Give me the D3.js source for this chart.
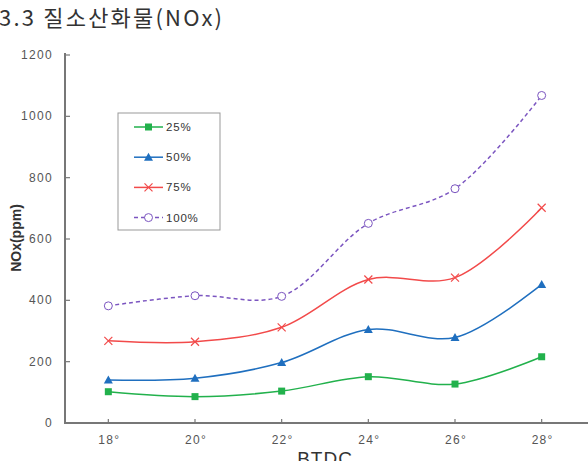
<!DOCTYPE html>
<html><head><meta charset="utf-8">
<script src="https://cdn.jsdelivr.net/npm/d3@7/dist/d3.min.js"></script>
<style>body{margin:0;background:#fff}</style>
</head><body>
<svg id="c" width="588" height="461"></svg>
<script>
const categories = ["18°","20°","22°","24°","26°","28°"];
const s25  = [102, 86, 104, 151, 127, 216];
const s50  = [140, 146, 197, 305, 279, 452];
const s75  = [268, 265, 312, 468, 474, 702];
const s100 = [382, 415, 413, 651, 764, 1068];
const seriesNames = ["25%","50%","75%","100%"];
const yTicks = [0,200,400,600,800,1000,1200];

(function(){
const series = [
  {name: seriesNames[0], values: s25,  color:"#22b14c", marker:"square", dash:null},
  {name: seriesNames[1], values: s50,  color:"#1f6fbf", marker:"triangle", dash:null},
  {name: seriesNames[2], values: s75,  color:"#f24a4a", marker:"x", dash:null},
  {name: seriesNames[3], values: s100, color:"#7b55c0", marker:"circle", dash:"4,3"}
];

const svg = d3.select("#c");
const pL = 65, pR = 585, pT = 53, pB = 423;
const x = d3.scaleBand().domain(categories).range([pL, pR]);
const y = d3.scaleLinear().domain([0,1200]).range([pB, 55]);
const cx = d => x(d) + x.bandwidth()/2;
const tickFont = "'Liberation Sans', Arial, sans-serif";

svg.append("text").attr("x", -1).attr("y", 26)
  .attr("font-family", "'Noto Sans CJK KR', sans-serif").attr("font-size", 22)
  .attr("fill", "#333").attr("letter-spacing", 2.2)
  .text("3.3 질소산화물(NOx)");

const axisColor = "#777";
svg.append("line").attr("x1", pL).attr("x2", pL).attr("y1", pT).attr("y2", pB)
  .attr("stroke", axisColor).attr("stroke-width", 2);
svg.append("line").attr("x1", pL-1).attr("x2", 588).attr("y1", pB).attr("y2", pB)
  .attr("stroke", axisColor).attr("stroke-width", 2);

const yg = svg.append("g");
yTicks.forEach(t => {
  if (t > 0) yg.append("line").attr("x1", pL).attr("x2", pL+5).attr("y1", y(t)).attr("y2", y(t))
    .attr("stroke", axisColor).attr("stroke-width", 1.2);
  yg.append("text").attr("x", 53).attr("y", y(t)+4).attr("text-anchor","end")
    .attr("font-family",tickFont).attr("font-size", 12).attr("letter-spacing", 1.3)
    .attr("fill","#555").text(t);
});
const xg = svg.append("g");
categories.forEach(c => {
  xg.append("line").attr("x1", cx(c)).attr("x2", cx(c)).attr("y1", pB).attr("y2", pB-4)
    .attr("stroke", axisColor).attr("stroke-width", 1.2);
  xg.append("text").attr("x", cx(c)+1).attr("y", pB+21).attr("text-anchor","middle")
    .attr("font-family",tickFont).attr("font-size", 12).attr("letter-spacing", 1.3)
    .attr("fill","#555").text(c);
});

svg.append("text").attr("transform", `translate(21,${(pT+pB)/2}) rotate(-90)`)
  .attr("text-anchor","middle").attr("font-family",tickFont)
  .attr("font-weight","bold").attr("font-size", 14).attr("fill","#333").text("NOx(ppm)");
svg.append("text").attr("x", 325).attr("y", 465).attr("text-anchor","middle")
  .attr("font-family",tickFont).attr("letter-spacing", 1)
  .attr("font-size", 19).attr("fill","#333").text("BTDC");

function drawMarker(g, type, px, py, color) {
  if (type === "square") {
    g.append("rect").attr("x", px-3.5).attr("y", py-3.5).attr("width", 7).attr("height", 7).attr("fill", color);
  } else if (type === "triangle") {
    g.append("path").attr("d", `M${px},${py-4.5}L${px+4.5},${py+3.5}L${px-4.5},${py+3.5}Z`).attr("fill", color);
  } else if (type === "x") {
    g.append("path").attr("d", `M${px-4},${py-4}L${px+4},${py+4}M${px+4},${py-4}L${px-4},${py+4}`)
      .attr("stroke", color).attr("stroke-width", 1.2);
  } else if (type === "circle") {
    g.append("circle").attr("cx", px).attr("cy", py).attr("r", 4).attr("fill", "#fff")
      .attr("stroke", color).attr("stroke-width", 1);
  }
}

const line = d3.line().curve(d3.curveCatmullRom.alpha(0.5));
series.forEach(s => {
  const g = svg.append("g");
  const pts = s.values.map((v,i) => [cx(categories[i]), y(v)]);
  g.append("path").attr("d", line(pts)).attr("fill","none").attr("stroke", s.color)
    .attr("stroke-width", 1.5).attr("stroke-dasharray", s.dash);
  pts.forEach(p => drawMarker(g, s.marker, p[0], p[1], s.color));
});

const lg = svg.append("g");
lg.append("rect").attr("x", 118).attr("y", 113).attr("width", 102).attr("height", 117)
  .attr("fill","#fff").attr("stroke","#999").attr("stroke-width", 1);
series.forEach((s,i) => {
  const ly = 127 + i*30.2;
  lg.append("line").attr("x1", 134).attr("x2", 163).attr("y1", ly).attr("y2", ly)
    .attr("stroke", s.color).attr("stroke-width", 1.5).attr("stroke-dasharray", s.dash);
  drawMarker(lg, s.marker, 148.5, ly, s.color);
  lg.append("text").attr("x", 166).attr("y", ly+4).attr("font-family",tickFont)
    .attr("font-size", 11.5).attr("letter-spacing", 0.8).attr("fill","#333").text(s.name);
});
})();
</script>
</body></html>
